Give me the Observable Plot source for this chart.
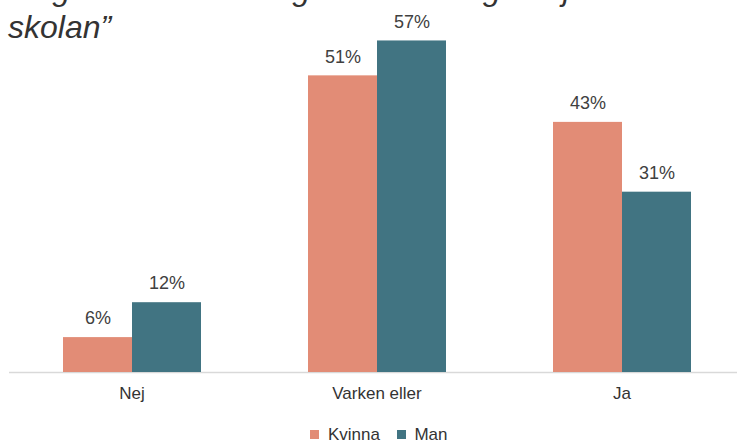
<!DOCTYPE html>
<html>
<head>
<meta charset="utf-8">
<script src="https://cdn.jsdelivr.net/npm/d3@7"></script>
<script src="https://cdn.jsdelivr.net/npm/@observablehq/plot@0.6"></script>
<style>
  html, body { margin: 0; padding: 0; background: #fff; width: 737px; height: 443px; overflow: hidden; }
  body { position: relative; font-family: "Liberation Sans", Arial, sans-serif; }
  #title { position: absolute; left: 8px; top: -30.5px; font-style: italic; font-size: 32px; line-height: 38px; color: #333; white-space: nowrap; }
  #chart { position: absolute; left: 0; top: 0; }
  #legend { position: absolute; left: 0; top: 418px; width: 737px; display: flex; justify-content: center; padding-left: 38px; box-sizing: border-box; }
  #legend > * { margin: 0 !important; }
</style>
</head>
<body>
<div id="title">“Jag har fått tillräcklig undervisning om jämställdhet i<br>skolan”</div>
<div id="chart"></div>
<div id="legend"></div>
<script>
const categories = ["Nej", "Varken eller", "Ja"];
const genders = ["Kvinna", "Man"];
const kvinna = [6, 51, 43];
const man = [12, 57, 31];
const colors = ["#E28C76", "#417482"];

const data = categories.flatMap((c, i) => [
  {cat: c, gender: "Kvinna", value: kvinna[i]},
  {cat: c, gender: "Man", value: man[i]}
]);

const chart = Plot.plot({
  width: 737,
  height: 410,
  marginTop: 23,
  marginBottom: 38,
  marginLeft: 0,
  marginRight: 0,
  style: {fontFamily: "Liberation Sans, Arial, sans-serif", background: "transparent", overflow: "visible"},
  fx: {domain: categories, range: [8.5, 743.5], padding: 0, label: null},
  x: {domain: genders, paddingInner: 0, paddingOuter: 0.763, axis: null},
  y: {domain: [0, 60], axis: null},
  color: {domain: genders, range: colors},
  marks: [
    Plot.ruleY([0], {stroke: "#d9d9d9", strokeWidth: 1.5}),
    Plot.barY(data, {fx: "cat", x: "gender", y: "value", fill: "gender", insetLeft: 0, insetRight: 0}),
    Plot.text(data, {fx: "cat", x: "gender", y: "value", text: d => d.value + "%", dy: -19, fontSize: 18, fill: "#404040"}),
    Plot.axisFx({anchor: "bottom", tickSize: 0, tickPadding: 14, fontSize: 17, color: "#333", label: null})
  ]
});
document.getElementById("chart").appendChild(chart);

const legend = Plot.legend({
  color: {domain: genders, range: colors},
  swatchSize: 9,
  style: {fontSize: "17px", fontFamily: "Liberation Sans, Arial, sans-serif", color: "#333"}
});
document.getElementById("legend").appendChild(legend);
</script>
</body>
</html>
